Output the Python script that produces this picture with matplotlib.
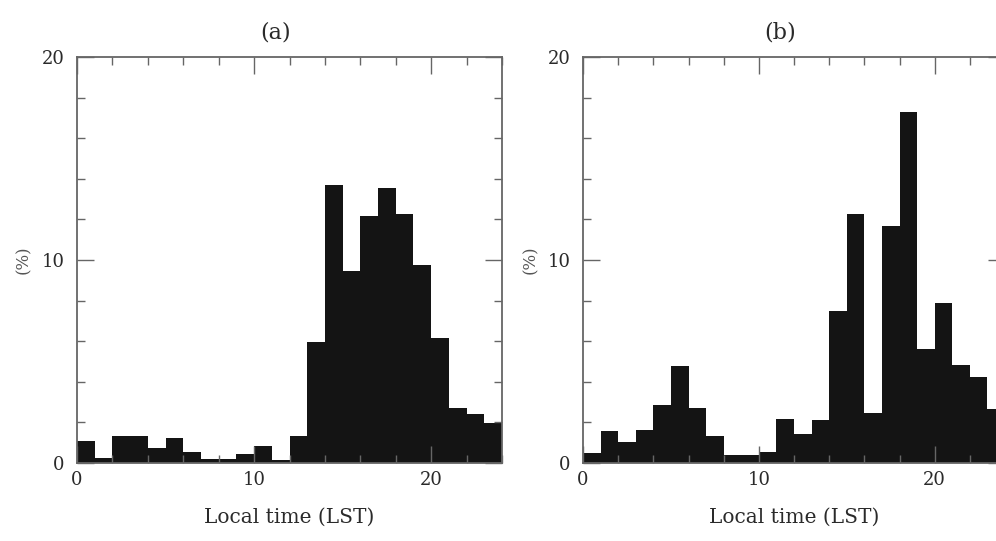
import matplotlib
matplotlib.use("Agg")
import matplotlib.pyplot as plt
import numpy as np
from matplotlib.ticker import MultipleLocator

hours = list(range(24))
panel_a = [1.08, 0.26, 1.33, 1.33, 0.74, 1.23, 0.53, 0.18, 0.18, 0.46, 0.84, 0.13,
           1.33, 5.94, 13.7, 9.46, 12.15, 13.56, 12.28, 9.77, 6.14, 2.69, 2.43, 1.97]
panel_b = [0.49, 1.56, 1.03, 1.61, 2.84, 4.78, 2.73, 1.35, 0.38, 0.38, 0.56, 2.15,
           1.44, 2.13, 7.49, 12.27, 2.48, 11.66, 17.27, 5.62, 7.88, 4.84, 4.24, 2.64]
titles = ["(a)", "(b)"]
xlabel = "Local time (LST)"
ylabel = "(%)"

plt.rcParams['font.family'] = ['DejaVu Serif']

fig = plt.figure(figsize=(9.96, 5.41), dpi=100)
W, H = 996, 541
positions = [(77, 502), (583, 1005)]
top_px, bot_px = 57, 463
frame_col = "#666666"
bar_col = "#141414"
text_col = "#2a2a2a"

for (l, r), vals, title in zip(positions, [panel_a, panel_b], titles):
    ax = fig.add_axes([l / W, 1 - bot_px / H, (r - l) / W, (bot_px - top_px) / H])
    ax.bar(hours, vals, width=1.0, align='edge', color=bar_col, edgecolor='none', zorder=1)
    ax.set_xlim(0, 24)
    ax.set_ylim(0, 20)
    ax.xaxis.set_major_locator(MultipleLocator(10))
    ax.xaxis.set_minor_locator(MultipleLocator(2))
    ax.yaxis.set_major_locator(MultipleLocator(10))
    ax.yaxis.set_minor_locator(MultipleLocator(2))
    ax.tick_params(which='both', direction='in', top=True, right=True,
                   colors=frame_col, labelcolor=text_col, labelsize=13, width=1.0)
    ax.tick_params(which='major', length=12)
    ax.tick_params(which='minor', length=6)
    ax.tick_params(axis='x', which='major', pad=6)
    ax.tick_params(axis='y', which='major', pad=9)
    for s in ax.spines.values():
        s.set_color(frame_col)
        s.set_linewidth(1.3)
    ax.set_xlabel(xlabel, fontsize=14.5, color=text_col, labelpad=13)
    ax.text(11.2, 21.2, title, ha='center', va='center', fontsize=16, color=text_col)
    ax.text(-3.0, 10, ylabel, rotation=90, ha='center', va='center', fontsize=12,
            color='#555555')

fig.savefig("out.png", dpi=100)
